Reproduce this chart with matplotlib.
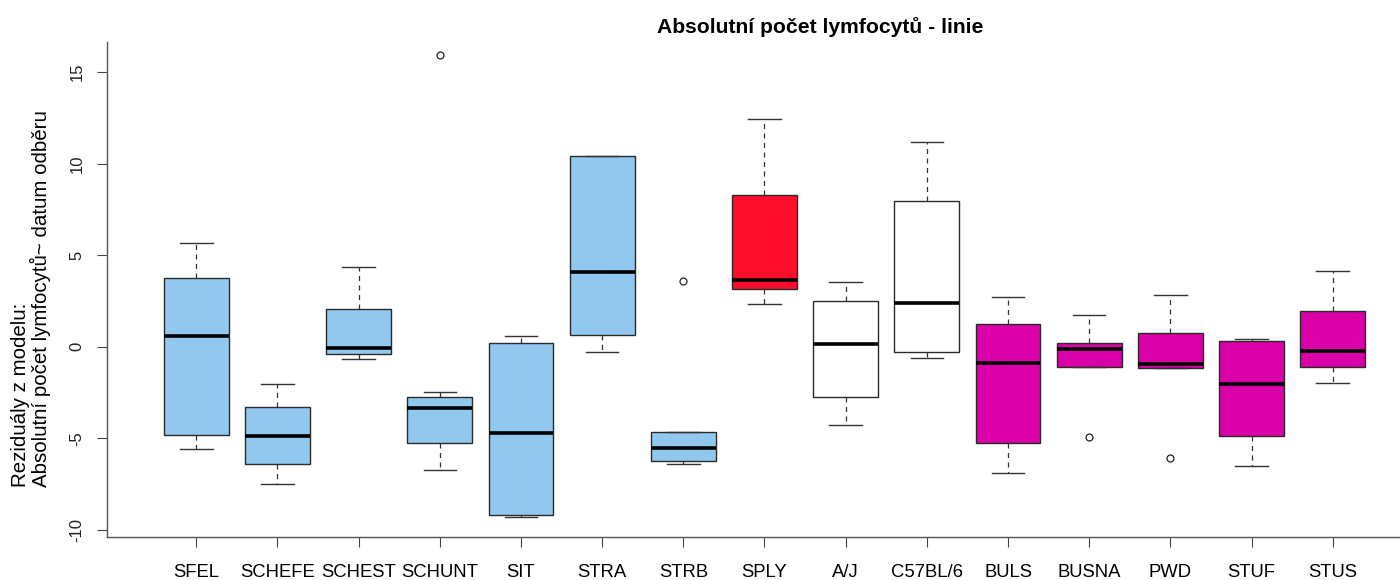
import matplotlib
matplotlib.use("Agg")
import matplotlib.pyplot as plt

plt.rcParams["font.family"] = ["Liberation Sans", "DejaVu Sans"]

# Residual summaries per mouse line
strains = ["SFEL", "SCHEFE", "SCHEST", "SCHUNT", "SIT", "STRA", "STRB", "SPLY",
           "A/J", "C57BL/6", "BULS", "BUSNA", "PWD", "STUF", "STUS"]
whisker_low = [-5.59, -7.50, -0.67, -6.75, -9.27, -0.29, -6.40, 2.35,
               -4.26, -0.61, -6.91, -1.10, -1.18, -6.53, -1.98]
quartile_1 = [-4.81, -6.37, -0.38, -5.26, -9.17, 0.62, -6.22, 3.14,
              -2.72, -0.30, -5.24, -1.10, -1.18, -4.84, -1.10]
medians = [0.58, -4.86, -0.07, -3.32, -4.68, 4.07, -5.53, 3.65,
           0.15, 2.40, -0.87, -0.12, -0.96, -2.05, -0.20]
quartile_3 = [3.76, -3.26, 2.09, -2.74, 0.20, 10.39, -4.63, 8.30,
              2.49, 7.97, 1.26, 0.20, 0.73, 0.33, 1.98]
whisker_high = [5.67, -2.03, 4.34, -2.45, 0.60, 10.42, -4.63, 12.44,
                3.54, 11.19, 2.74, 1.76, 2.85, 0.42, 4.16]
outliers = [[], [], [], [15.93], [], [], [3.60], [],
            [], [], [], [-4.92], [-6.08], [], []]
fill_colors = ["#93C8EE"] * 7 + ["#FF0D2D"] + ["#FFFFFF"] * 2 + ["#D800A6"] * 5

y_ticks = [-10, -5, 0, 5, 10, 15]

W, H = 1400, 580
fig = plt.figure(figsize=(W / 100, H / 100), dpi=100)
ax = fig.add_axes([107 / W, 1 - 537 / H, (1422 - 107) / W, (537 - 42) / H])

stats = []
for i, name in enumerate(strains):
    stats.append(dict(label=name, whislo=whisker_low[i], q1=quartile_1[i],
                      med=medians[i], q3=quartile_3[i], whishi=whisker_high[i],
                      fliers=outliers[i]))

positions = list(range(1, len(strains) + 1))
edge = "#2a2a2a"
bp = ax.bxp(stats, positions=positions, widths=0.8, patch_artist=True,
            showfliers=True,
            boxprops=dict(edgecolor=edge, linewidth=1.0),
            medianprops=dict(color="black", linewidth=2.6, solid_capstyle="butt"),
            whiskerprops=dict(color="#333333", linewidth=0.9, linestyle=(0, (4.0, 3.6))),
            capprops=dict(color="#333333", linewidth=1.0),
            flierprops=dict(marker="o", markersize=5, markerfacecolor="white",
                            markeredgecolor="#222222", markeredgewidth=0.9,
                            linestyle="none"),
            capwidths=0.4)
for patch, c in zip(bp["boxes"], fill_colors):
    patch.set_facecolor(c)

ax.set_xlim(-0.1, 16.1)
ax.set_ylim(-10.38, 16.64)

for side in ("top", "right"):
    ax.spines[side].set_visible(False)
for side in ("left", "bottom"):
    ax.spines[side].set_color("#555555")
    ax.spines[side].set_linewidth(1.0)

ax.set_xticks(positions)
ax.set_xticklabels(strains, fontsize=13.3)
ax.tick_params(axis="x", length=7.2, width=0.8, color="#444444", pad=12)

ax.set_yticks(y_ticks)
ax.set_yticklabels([str(v) for v in y_ticks], fontsize=12, rotation=90,
                   va="center", color="#222222")
ax.tick_params(axis="y", length=7.2, width=0.8, color="#444444", pad=9)

fig.text(820 / W, 1 - 27 / H, "Absolutní počet lymfocytů - linie",
         ha="center", va="center", fontsize=15.2, fontweight="bold")

fig.text(21 / W, 1 - 487 / H, "Reziduály z modelu:", rotation=90,
         ha="center", va="bottom", fontsize=14.8)
fig.text(40 / W, 1 - 487 / H, "Absolutní počet lymfocytů~ datum odběru",
         rotation=90, ha="center", va="bottom", fontsize=14.8)

fig.savefig("out.png", dpi=100)
